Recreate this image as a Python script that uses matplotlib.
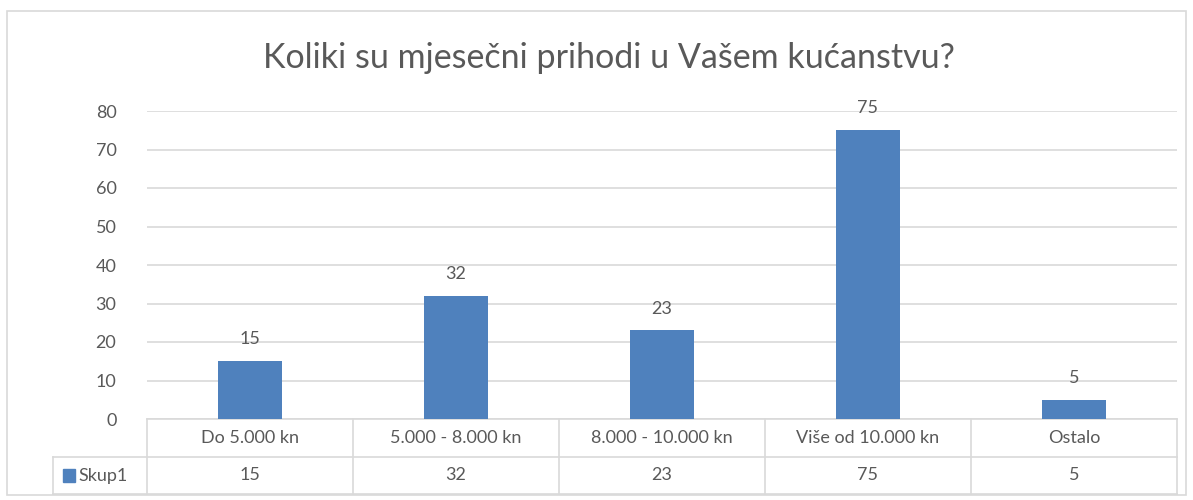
import matplotlib.pyplot as plt
from matplotlib.patches import Rectangle

plt.rcParams['font.family'] = ['Lato', 'DejaVu Sans']

categories = ['Do 5.000 kn', '5.000 - 8.000 kn', '8.000 - 10.000 kn', 'Više od 10.000 kn', 'Ostalo']
values = [15, 32, 23, 75, 5]
series_name = 'Skup1'
title = 'Koliki su mjesečni prihodi u Vašem kućanstvu?'

bar_color = '#4f81bd'
text_color = '#595959'
grid_color = '#d9d9d9'

W, H = 1193, 500
fig = plt.figure(figsize=(W / 100, H / 100), dpi=100)
# outer chart border
fig.patches.append(Rectangle((7 / W, 1 - 495 / H), (1186 - 7) / W, (495 - 11) / H,
                             transform=fig.transFigure, fill=False, ec=grid_color, lw=1.2))

ax = fig.add_axes([147 / W, 1 - 419 / H, (1177 - 147) / W, (419 - 111) / H])
x = range(len(categories))
ax.bar(x, values, width=0.315, color=bar_color, zorder=3)
for xi, v in zip(x, values):
    ax.text(xi, v + 3.6, str(v), ha='center', va='bottom', fontsize=13, color=text_color)

ax.set_xlim(-0.5, len(categories) - 0.5)
ax.set_ylim(0, 80)
ax.set_yticks(range(0, 81, 10))
ax.tick_params(axis='y', length=0, pad=22, labelsize=13, labelcolor=text_color)
ax.set_xticks([])
ax.grid(axis='y', color=grid_color, lw=1.2, zorder=0)
for s in ax.spines.values():
    s.set_visible(False)

fig.text(609 / W, 1 - 58 / H, title, ha='center', va='center', fontsize=24.5, color=text_color)

# data table below the axis
r1 = -38 / 308
r2 = -75 / 308
left = -94 / 1030 * len(categories) - 0.5
n = len(categories)
kw = dict(color=grid_color, lw=1.2, clip_on=False, transform=ax.get_xaxis_transform())
ax.plot([-0.5, n - 0.5], [0, 0], **kw)
ax.plot([left, n - 0.5], [r1, r1], **kw)
ax.plot([left, n - 0.5], [r2, r2], **kw)
ax.plot([left, left], [r1, r2], **kw)
for b in range(n + 1):
    ax.plot([b - 0.5, b - 0.5], [0, r2], **kw)
tr = ax.get_xaxis_transform()
for xi, c, v in zip(x, categories, values):
    ax.text(xi, r1 / 2, c, ha='center', va='center', fontsize=13, color=text_color, transform=tr)
    ax.text(xi, (r1 + r2) / 2, str(v), ha='center', va='center', fontsize=13, color=text_color, transform=tr)
ax.add_patch(Rectangle((left + 0.05, (r1 + r2) / 2 - 0.022), 0.055, 0.044, color=bar_color,
                       transform=tr, clip_on=False))
ax.text(left + 0.125, (r1 + r2) / 2, series_name, ha='left', va='center', fontsize=13,
        color=text_color, transform=tr)

fig.savefig('out.png', dpi=100)
